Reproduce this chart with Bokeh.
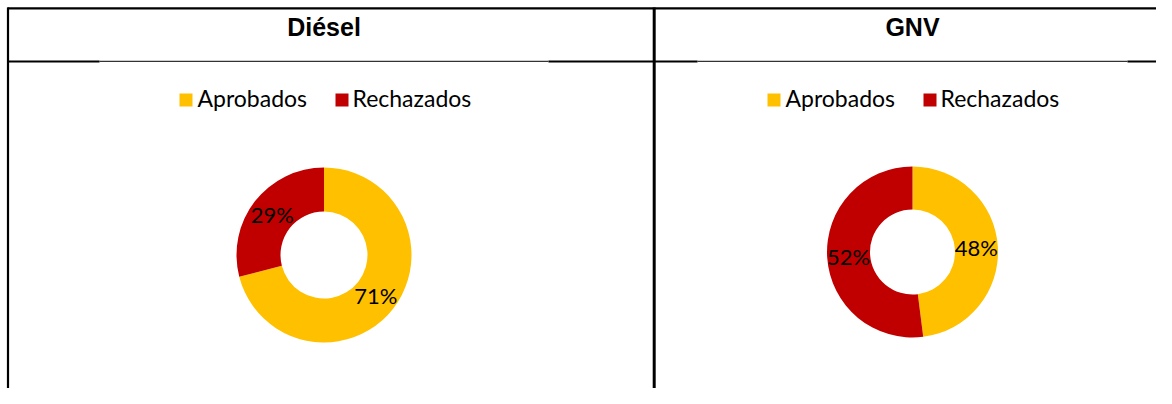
import math
from bokeh.plotting import figure
from bokeh.models import Range1d, ColumnDataSource
from bokeh.embed import file_html
from bokeh.resources import INLINE
from bokeh.core.properties import value

# ---- data ----
categories = ["Aprobados", "Rechazados"]
diesel_pct = [71, 29]
gnv_pct = [48, 52]
titles = ["Diésel", "GNV"]
colors = ["#FFC000", "#C00000"]

# ---- layout helpers (1 data unit = 1 screen pixel, y measured from top) ----
W, H = 1156, 388


def X(px):
    return px


def Y(py):
    return H - py


p = figure(width=W, height=H, x_range=Range1d(0, W), y_range=Range1d(0, H),
           toolbar_location=None, output_backend="svg", min_border=0,
           x_axis_location=None, y_axis_location=None,
           outline_line_color=None, background_fill_color="white",
           border_fill_color="white")
p.grid.visible = False

# ---- table borders ----
thick = dict(x0=[X(7), X(7.5), X(7), X(548), X(1127)],
             y0=[Y(7.8), Y(7), Y(61), Y(61), Y(61)],
             x1=[W, X(7.5), X(99), X(697), W],
             y1=[Y(7.8), 0, Y(61), Y(61), Y(61)])
p.segment(x0="x0", y0="y0", x1="x1", y1="y1", source=ColumnDataSource(thick),
          line_color="black", line_width=2.2)
p.segment(x0=[X(653.7)], y0=[Y(7)], x1=[X(653.7)], y1=[0],
          line_color="black", line_width=3)
thin = dict(x0=[X(99), X(697)], y0=[Y(60.8), Y(60.8)],
            x1=[X(548), X(1127)], y1=[Y(60.8), Y(60.8)])
p.segment(x0="x0", y0="y0", x1="x1", y1="y1", source=ColumnDataSource(thin),
          line_color="black", line_width=1)

# ---- headers ----
p.text(x=[X(323.5), X(912)], y=[Y(26), Y(26)], text=titles,
       text_font=value("Liberation Sans"), text_font_style="bold",
       text_font_size="25px", text_align="center", text_baseline="middle",
       text_color="black")

# ---- donuts ----
panels = [
    (diesel_pct, (X(323.5), Y(254.5)), 87.5, 43.5, 0),
    (gnv_pct, (X(912), Y(251.5)), 85.5, 42.5, 588),
]

for vals, (cx, cy), ro, ri, dx in panels:
    total = float(sum(vals))
    cum = 0.0
    starts, ends, lx, ly, labels = [], [], [], [], []
    rm = (ro + ri) / 2.0
    for v in vals:
        a0 = math.pi / 2 - 2 * math.pi * cum / total
        a1 = math.pi / 2 - 2 * math.pi * (cum + v) / total
        mid = (a0 + a1) / 2
        starts.append(a0)
        ends.append(a1)
        lx.append(cx + rm * math.cos(mid))
        ly.append(cy + rm * math.sin(mid))
        labels.append(f"{v}%")
        cum += v
    src = ColumnDataSource(dict(start=starts, end=ends, color=colors,
                                cat=categories, lx=lx, ly=ly, lab=labels))
    p.annular_wedge(x=cx, y=cy, inner_radius=ri, outer_radius=ro,
                    start_angle="start", end_angle="end", direction="clock",
                    fill_color="color", line_color=None, source=src)
    p.text(x="lx", y="ly", text="lab", source=src,
           text_font=value("Lato"), text_font_size="22px",
           text_align="center", text_baseline="middle", text_color="black")

    # legend
    sq_x = [X(185.5 + dx), X(341.5 + dx)]
    tx_x = [X(197 + dx), X(352 + dx)]
    p.rect(x=sq_x, y=[Y(99.5)] * 2, width=13, height=13,
           fill_color=colors, line_color=None)
    p.text(x=tx_x, y=[Y(97.5)] * 2, text=categories,
           text_font=value("Lato"), text_font_size="23px",
           text_align="left", text_baseline="middle", text_color="black")

open("out.html", "w").write(file_html(p, INLINE))
